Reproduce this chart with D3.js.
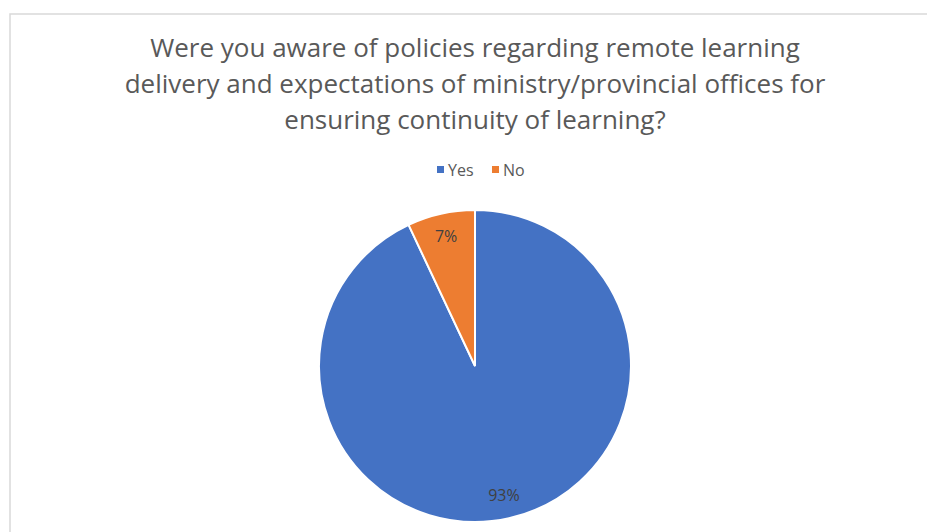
<!DOCTYPE html>
<html>
<head>
<meta charset="utf-8">
<script src="https://cdn.jsdelivr.net/npm/d3@7"></script>
<style>
  body { margin: 0; background: #fff; }
  text { font-family: "Open Sans", "Noto Sans", sans-serif; }
</style>
</head>
<body>
<script>
// Global variable
const w = 927;
const h = 532;

const categories = ["Yes", "No"];
const values = [93, 7];
const colors = ["#4472C4", "#ED7D31"];
const titleLines = [
    "Were you aware of policies regarding remote learning",
    "delivery and expectations of ministry/provincial offices for",
    "ensuring continuity of learning?"
];

let svg = d3.select("body")
            .append("svg")
                .attr("width", w)
                .attr("height", h);

// chart border (only top and left visible)
svg.append("rect")
    .attr("x", 10)
    .attr("y", 14)
    .attr("width", 940)
    .attr("height", 540)
    .attr("fill", "none")
    .attr("stroke", "#d9d9d9")
    .attr("stroke-width", 1.5);

// Title
svg.append("g")
    .selectAll("text")
    .data(titleLines)
    .enter()
    .append("text")
        .attr("x", 475)
        .attr("y", (d, i) => 57 + i * 36)
        .attr("text-anchor", "middle")
        .attr("font-size", 26)
        .attr("fill", "#595959")
        .text(d => d);

// Legend
const color = d3.scaleOrdinal().domain(categories).range(colors);
const legendX = d3.scalePoint().domain(categories).range([437, 492]);

const legend = svg.append("g")
    .selectAll("g")
    .data(categories)
    .enter()
    .append("g")
    .attr("transform", d => "translate(" + legendX(d) + ",170)");

legend.append("rect")
    .attr("x", 0)
    .attr("y", -4)
    .attr("width", 7)
    .attr("height", 7)
    .attr("fill", d => color(d));

legend.append("text")
    .attr("x", 11)
    .attr("y", 6)
    .attr("font-size", 16)
    .attr("fill", "#595959")
    .text(d => d);

// Pie
const cx = 475, cy = 366, r = 156;
const pie = d3.pie().sort(null).value(d => d.value);
const arc = d3.arc().innerRadius(0).outerRadius(r);
const labelArc = d3.arc().innerRadius(r * 0.85).outerRadius(r * 0.85);

const data = categories.map((c, i) => ({ name: c, value: values[i] }));
const slices = pie(data);

const g = svg.append("g").attr("transform", "translate(" + cx + "," + cy + ")");

g.selectAll("path")
    .data(slices)
    .enter()
    .append("path")
        .attr("d", arc)
        .attr("fill", d => color(d.data.name))
        .attr("stroke", "#fff")
        .attr("stroke-width", 2);

g.selectAll("text")
    .data(slices)
    .enter()
    .append("text")
        .attr("transform", d => "translate(" + labelArc.centroid(d) + ")")
        .attr("dy", "0.35em")
        .attr("text-anchor", "middle")
        .attr("font-size", 16)
        .attr("fill", "#404040")
        .text(d => d.data.value + "%");
</script>
</body>
</html>
